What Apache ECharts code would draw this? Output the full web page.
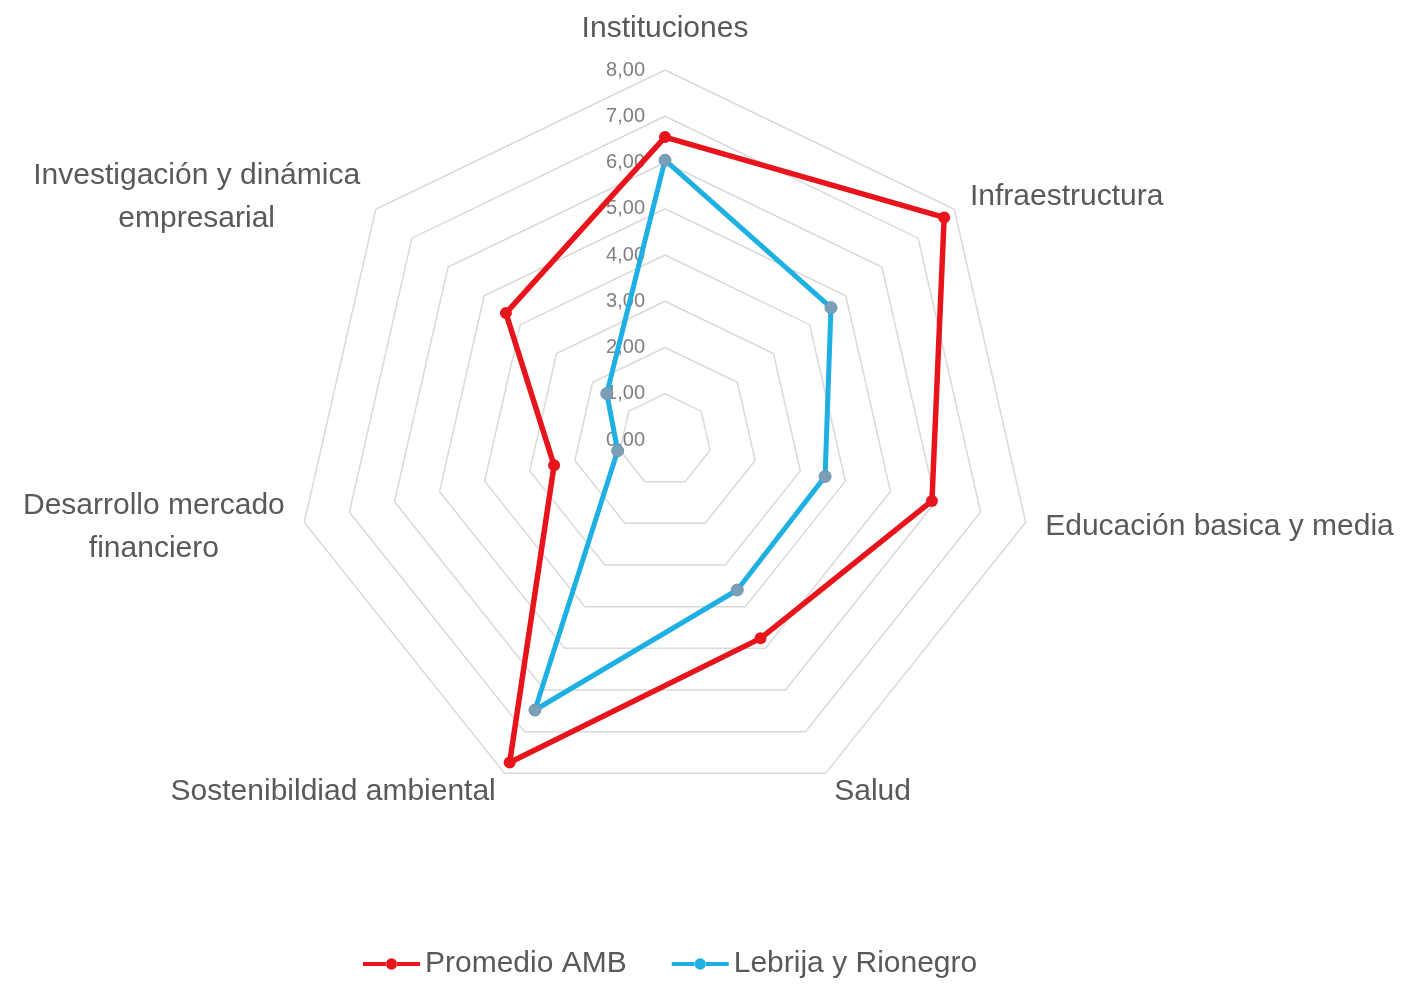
<!DOCTYPE html>
<html>
<head>
<meta charset="utf-8">
<script src="https://cdn.jsdelivr.net/npm/echarts@6/dist/echarts.min.js"></script>
<style>
    html, body { margin: 0; padding: 0; background: #fff; }
    #chart { width: 1406px; height: 985px; }
</style>
</head>
<body>
<div id="chart"></div>
<script>
// categories in the order they appear clockwise from the top
const categories = [
    "Instituciones",
    "Infraestructura",
    "Educación basica y media",
    "Salud",
    "Sostenibildiad ambiental",
    "Desarrollo mercado\nfinanciero",
    "Investigación y dinámica\nempresarial"
]
const promedioAMB = [6.55, 7.72, 5.92, 4.76, 7.74, 2.46, 4.40]
const lebrijaRionegro = [6.05, 4.59, 3.55, 3.60, 6.48, 1.05, 1.61]
const tickMax = 8
const tickStep = 1

const font = "'Liberation Sans', Arial, sans-serif"
const red = '#e8141b'
const cyan = '#1eb0e2'

// echarts lays radar indicators counter-clockwise, so walk the list backwards after the first
const order = [0].concat(categories.map((c, i) => i).slice(1).reverse())
const pick = arr => order.map(i => arr[i])

const indicators = pick(categories).map((name, k) => ({
    name: name,
    min: 0,
    max: tickMax,
    // only the top axis carries the scale labels
    axisLabel: { show: k === 0 }
}))

// line with a dot in the middle, like the excel legend keys
const lineKey = 'path://M0,4h22.5v4h-22.5z M32.5,4h22.5v4h-22.5z M22,6a5.5,5.5 0 1,0 11,0a5.5,5.5 0 1,0 -11,0z'

const dom = document.getElementById('chart')
const chart = echarts.init(dom, null, { renderer: 'canvas' })

const option = {
    animation: false,
    legend: {
        top: 944,
        left: 358,
        itemWidth: 57,
        itemHeight: 12,
        itemGap: 45,
        textStyle: { fontFamily: font, fontSize: 30, color: '#595959' },
        data: [
            { name: 'Promedio AMB', icon: lineKey, itemStyle: { color: red, borderWidth: 0 } },
            { name: 'Lebrija y Rionegro', icon: lineKey, itemStyle: { color: cyan, borderWidth: 0 } }
        ]
    },
    radar: {
        center: [665, 440],
        radius: 370,
        splitNumber: tickMax / tickStep,
        shape: 'polygon',
        indicator: indicators,
        axisName: {
            color: '#595959',
            fontFamily: font,
            fontSize: 30,
            formatter: name => name.split('\n').map(s => '{c|' + s + '}').join('\n'),
            rich: {
                c: { align: 'center', fontFamily: font, fontSize: 30, color: '#595959', lineHeight: 43 }
            }
        },
        nameGap: 20,
        axisLine: { show: false },
        axisTick: { show: false },
        axisLabel: {
            show: false,
            margin: 20,
            fontFamily: font,
            fontSize: 20,
            color: '#7f7f7f',
            formatter: v => v.toFixed(2).replace('.', ',')
        },
        splitLine: { lineStyle: { color: '#d9d9d9', width: 1.5 } },
        splitArea: { show: false }
    },
    series: [
        {
            type: 'radar',
            symbol: 'circle',
            symbolSize: 12,
            data: [
                {
                    name: 'Promedio AMB',
                    value: pick(promedioAMB),
                    lineStyle: { color: red, width: 5.5, join: 'round' },
                    itemStyle: { color: red }
                },
                {
                    name: 'Lebrija y Rionegro',
                    value: pick(lebrijaRionegro),
                    lineStyle: { color: cyan, width: 5, join: 'round' },
                    itemStyle: { color: '#7b9fb6', borderColor: '#6d95ad', borderWidth: 1 }
                }
            ]
        }
    ]
}

chart.setOption(option)
window.addEventListener('resize', chart.resize)
</script>
</body>
</html>
